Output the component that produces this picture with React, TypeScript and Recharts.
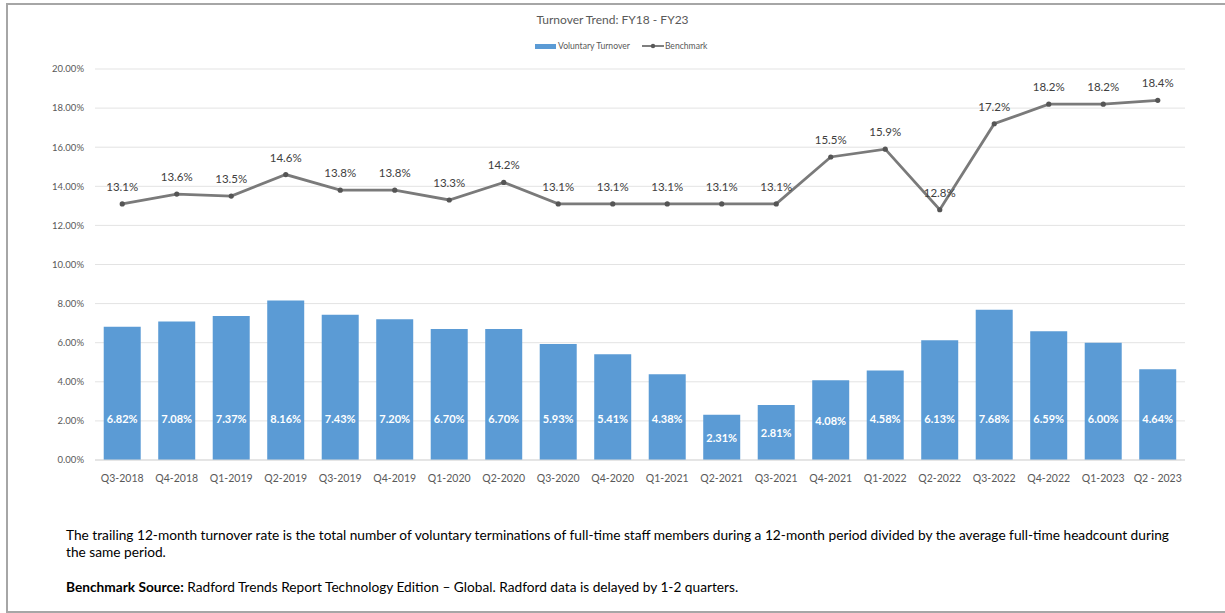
import { ComposedChart, Bar, Line, XAxis, YAxis, CartesianGrid, LabelList } from 'recharts';

const quarters = [
  'Q3-2018', 'Q4-2018', 'Q1-2019', 'Q2-2019', 'Q3-2019', 'Q4-2019', 'Q1-2020', 'Q2-2020',
  'Q3-2020', 'Q4-2020', 'Q1-2021', 'Q2-2021', 'Q3-2021', 'Q4-2021', 'Q1-2022', 'Q2-2022',
  'Q3-2022', 'Q4-2022', 'Q1-2023', 'Q2 - 2023',
];

const voluntaryTurnover = [
  6.82, 7.08, 7.37, 8.16, 7.43, 7.2, 6.7, 6.7, 5.93, 5.41,
  4.38, 2.31, 2.81, 4.08, 4.58, 6.13, 7.68, 6.59, 6.0, 4.64,
];

const benchmark = [
  13.1, 13.6, 13.5, 14.6, 13.8, 13.8, 13.3, 14.2, 13.1, 13.1,
  13.1, 13.1, 13.1, 15.5, 15.9, 12.8, 17.2, 18.2, 18.2, 18.4,
];

const yTicks = [0, 2, 4, 6, 8, 10, 12, 14, 16, 18, 20];

const FONT = 'Lato, "Open Sans", sans-serif';

const data = quarters.map((q, i) => ({
  quarter: q,
  voluntary: voluntaryTurnover[i],
  benchmark: benchmark[i],
}));

// white labels sit in the lower part of the bar, centred for short bars
const BarLabel = (props: any) => {
  const { x, y, width, height, value } = props;
  const bottom = y + height;
  const cy = bottom - Math.min(height / 2, 42);
  return (
    <text
      x={x + width / 2}
      y={cy}
      textAnchor="middle"
      dominantBaseline="central"
      fill="#ffffff"
      fontWeight={700}
      fontSize={11}
      fontFamily={FONT}
    >
      {value.toFixed(2)}%
    </text>
  );
};

function App() {
  return (
    <div
      style={{
        position: 'absolute',
        left: 0,
        top: 0,
        width: 1225,
        height: 613,
        background: '#ffffff',
        fontFamily: FONT,
        overflow: 'hidden',
      }}
    >
      {/* frame */}
      <div
        style={{
          position: 'absolute',
          left: 6,
          top: 3,
          width: 1240,
          height: 606,
          borderLeft: '2px solid #a6a6a6',
          borderTop: '2px solid #a6a6a6',
          borderBottom: '2px solid #a6a6a6',
        }}
      />
      <div
        style={{
          position: 'absolute',
          left: 0,
          top: 12,
          width: 1225,
          textAlign: 'center',
          fontSize: 12,
          color: '#595959',
        }}
      >
        Turnover Trend: FY18 - FY23
      </div>
      <div
        style={{
          position: 'absolute',
          left: 535,
          top: 41,
          display: 'flex',
          alignItems: 'center',
          fontSize: 8.6,
          color: '#595959',
        }}
      >
        <span style={{ display: 'inline-block', width: 21, height: 5, background: '#5b9bd5', marginRight: 2 }} />
        <span>Voluntary Turnover</span>
        <svg width={22} height={8} style={{ marginLeft: 12, marginRight: 1 }}>
          <line x1={0} y1={4} x2={22} y2={4} stroke="#7f7f7f" strokeWidth={2} />
          <circle cx={11} cy={4} r={2.2} fill="#595959" />
        </svg>
        <span>Benchmark</span>
      </div>
      <div style={{ position: 'absolute', left: 0, top: 0 }}>
        <ComposedChart
          width={1225}
          height={492}
          data={data}
          margin={{ top: 69, right: 40, bottom: 0, left: 0 }}
          barCategoryGap="16%"
        >
          <CartesianGrid vertical={false} stroke="#e3e3e3" />
          <XAxis
            dataKey="quarter"
            axisLine={{ stroke: '#d9d9d9' }}
            tickLine={false}
            tickMargin={9}
            interval={0}
            height={32}
            tick={{ fontSize: 10.5, fill: '#595959', fontFamily: FONT }}
          />
          <YAxis
            width={95}
            domain={[0, 20]}
            ticks={yTicks}
            axisLine={false}
            tickLine={false}
            tickSize={0}
            tickMargin={11}
            tickFormatter={(v: number) => `${v.toFixed(2)}%`}
            tick={{ fontSize: 9.5, fill: '#595959', fontFamily: FONT }}
          />
          <Bar dataKey="voluntary" fill="#5b9bd5" isAnimationActive={false}>
            <LabelList dataKey="voluntary" content={BarLabel} />
          </Bar>
          <Line
            dataKey="benchmark"
            stroke="#7a7a7a"
            strokeWidth={2.8}
            dot={{ r: 2.6, fill: '#555555', stroke: '#555555', strokeWidth: 0 }}
            isAnimationActive={false}
          >
            <LabelList
              dataKey="benchmark"
              position="top"
              offset={13}
              formatter={(v: any) => `${Number(v).toFixed(1)}%`}
              style={{ fontSize: 11.5, fill: '#404040', fontFamily: FONT }}
            />
          </Line>
        </ComposedChart>
      </div>
      <div
        style={{
          position: 'absolute',
          left: 66,
          top: 526,
          fontSize: 13.7,
          lineHeight: '17px',
          color: '#000000',
          whiteSpace: 'nowrap',
        }}
      >
        The trailing 12-month turnover rate is the total number of voluntary terminations of full-time staff members during a 12-month period divided by the average full-time headcount during
        <br />
        the same period.
      </div>
      <div
        style={{
          position: 'absolute',
          left: 66,
          top: 578,
          fontSize: 13.7,
          lineHeight: '17px',
          color: '#000000',
          whiteSpace: 'nowrap',
        }}
      >
        <b>Benchmark Source:</b> Radford Trends Report Technology Edition – Global. Radford data is delayed by 1-2 quarters.
      </div>
    </div>
  );
}

export default App;
